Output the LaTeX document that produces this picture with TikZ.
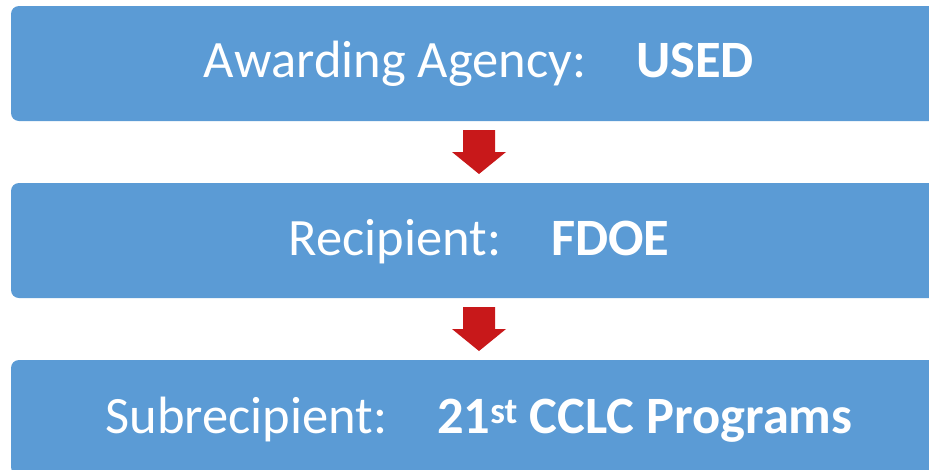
\documentclass[tikz,border=0pt]{standalone}
\usepackage{fontspec}
\setmainfont{Carlito}
\definecolor{boxblue}{HTML}{5B9BD5}
\definecolor{arrowred}{RGB}{200,24,26}
\tikzset{
  tierbox/.style={fill=boxblue, rounded corners=8pt},
  tiertext/.style={text=white, anchor=base, inner sep=0pt, font=\fontsize{52.5}{60}\selectfont},
  downarrow/.style={fill=arrowred}
}
\begin{document}
\begin{tikzpicture}[x=1pt,y=-1pt]
\useasboundingbox (0,0) rectangle (929,469);
\clip (0,0) rectangle (929,469);
\fill[white] (0,0) rectangle (929,469);
% boxes
\fill[tierbox] (11,6) rectangle (947,121);
\fill[tierbox] (11,183) rectangle (947,298);
\fill[tierbox] (11,360) rectangle (947,475);
% texts
\node[tiertext] (t1) at (479,77) {Awarding Agency:\hspace{50pt}\textbf{USED}};
\node[tiertext] (t2) at (479,255) {Recipient:\hspace{50pt}\textbf{FDOE}};
\node[tiertext] (t3) at (479,433) {Subrecipient:\hspace{50pt}\textbf{21\textsuperscript{st} CCLC Programs}};
% arrows
\coordinate (a1) at (479,130);
\coordinate (a2) at (479,307);
\foreach \a in {a1,a2}{
  \fill[downarrow] ([xshift=-16pt]\a) -- ([xshift=16pt]\a) -- ([xshift=16pt,yshift=-22pt]\a)
    -- ([xshift=27pt,yshift=-22pt]\a) -- ([yshift=-44pt]\a) -- ([xshift=-27pt,yshift=-22pt]\a)
    -- ([xshift=-16pt,yshift=-22pt]\a) -- cycle;
}
\end{tikzpicture}
\end{document}
